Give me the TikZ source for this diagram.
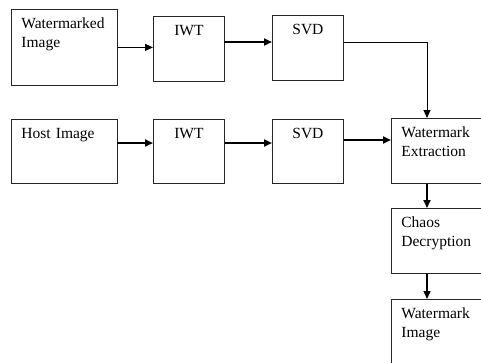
\documentclass[tikz,border=0pt]{standalone}
\usepackage{fontspec}
\setmainfont{Liberation Serif}
\usetikzlibrary{arrows.meta}
\tikzset{
  block/.style={draw=black!85,line width=0.8pt,inner xsep=10pt,inner ysep=9pt,
    text height=10.5pt,text depth=36.5pt,text width=86pt,align=left,
    anchor=north west,font=\fontsize{15.5}{19}\selectfont},
  narrowblock/.style={block,inner xsep=4pt,text width=63pt,align=center},
  wideblock/.style={block,text width=72pt},
  arrow/.style={-{Triangle[length=8pt,width=7pt]},line width=2.2pt},
  thinarrow/.style={-{Triangle[length=8pt,width=7pt]},line width=1pt}
}

\begin{document}
\begin{tikzpicture}[x=1pt,y=-1pt]
  \useasboundingbox (0,0) rectangle (481,362);
  \clip (0,0) rectangle (481,362);
  % watermarked branch
  \node[block,text depth=47.5pt] (wmimg) at (11,9) {Watermarked\\Image};
  \node[narrowblock] (iwta) at (153,16) {IWT};
  \node[narrowblock] (svda) at (272,15) {SVD};
  % host branch
  \node[block,text depth=35.5pt] (host) at (11,119) {Host Image};
  \node[narrowblock,text depth=35.5pt] (iwtb) at (153,119) {IWT};
  \node[narrowblock,text depth=35.5pt] (svdb) at (272,119) {SVD};
  \node[wideblock] (extr) at (391,118) {Watermark\\Extraction};
  \node[wideblock] (decr) at (391,208) {Chaos\\Decryption};
  \node[wideblock] (wmout) at (391,299) {Watermark\\Image};
  \coordinate (up) at (224,42);
  \coordinate (turn) at (427,42);
  \coordinate (low) at (117,143);
  \draw[thinarrow] (wmimg.east) -- (wmimg.east -| iwta.west);
  \draw[arrow] (up) -- (up -| svda.west);
  \draw[line width=1pt] (svda.east |- turn) -- (turn);
  \draw[thinarrow] (turn) -- (turn |- extr.north);
  \draw[arrow] (low) -- (low -| iwtb.west);
  \draw[arrow] (iwtb.east |- low) -- (low -| svdb.west);
  \draw[arrow] ([yshift=3pt]svdb.east |- low) -- ([yshift=3pt]low -| extr.west);
  \draw[arrow,line width=1.8pt] (turn |- extr.south) -- (turn |- decr.north);
  \draw[arrow,line width=1.4pt] (turn |- decr.south) -- (turn |- wmout.north);
\end{tikzpicture}
\end{document}
